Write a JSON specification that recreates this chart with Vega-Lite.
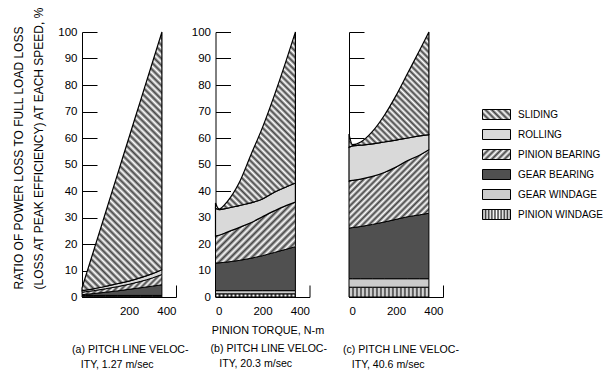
{
  "$schema": "https://vega.github.io/schema/vega-lite/v6.json",
  "background": "white",
  "padding": {"left": 12, "top": 5, "right": 2, "bottom": 2},
  "datasets": {
    "a": [
      {"t": 0, "PINION WINDAGE": 0.3, "GEAR WINDAGE": 0.3, "GEAR BEARING": 0.3, "PINION BEARING": 0.9, "ROLLING": 0.6, "SLIDING": 1.0},
      {"t": 15, "PINION WINDAGE": 0.3, "GEAR WINDAGE": 0.3, "GEAR BEARING": 0.4, "PINION BEARING": 1.0, "ROLLING": 0.6, "SLIDING": 5.1},
      {"t": 50, "PINION WINDAGE": 0.3, "GEAR WINDAGE": 0.3, "GEAR BEARING": 0.7, "PINION BEARING": 1.1, "ROLLING": 0.7, "SLIDING": 14.5},
      {"t": 100, "PINION WINDAGE": 0.3, "GEAR WINDAGE": 0.3, "GEAR BEARING": 1.2, "PINION BEARING": 1.3, "ROLLING": 0.9, "SLIDING": 27.8},
      {"t": 150, "PINION WINDAGE": 0.3, "GEAR WINDAGE": 0.3, "GEAR BEARING": 1.7, "PINION BEARING": 1.6, "ROLLING": 1.1, "SLIDING": 41.0},
      {"t": 200, "PINION WINDAGE": 0.3, "GEAR WINDAGE": 0.3, "GEAR BEARING": 2.3, "PINION BEARING": 1.9, "ROLLING": 1.2, "SLIDING": 54.2},
      {"t": 250, "PINION WINDAGE": 0.3, "GEAR WINDAGE": 0.3, "GEAR BEARING": 2.9, "PINION BEARING": 2.4, "ROLLING": 1.4, "SLIDING": 67.1},
      {"t": 300, "PINION WINDAGE": 0.3, "GEAR WINDAGE": 0.3, "GEAR BEARING": 3.5, "PINION BEARING": 3.1, "ROLLING": 1.6, "SLIDING": 79.8},
      {"t": 340, "PINION WINDAGE": 0.3, "GEAR WINDAGE": 0.3, "GEAR BEARING": 4.0, "PINION BEARING": 3.9, "ROLLING": 1.8, "SLIDING": 89.7}
    ],
    "b": [
      {"t": 0, "PINION WINDAGE": 1.2, "GEAR WINDAGE": 1.2, "GEAR BEARING": 10.4, "PINION BEARING": 10.2, "ROLLING": 10.5, "SLIDING": 2.0},
      {"t": 15, "PINION WINDAGE": 1.2, "GEAR WINDAGE": 1.2, "GEAR BEARING": 10.5, "PINION BEARING": 10.4, "ROLLING": 9.7, "SLIDING": 0.2},
      {"t": 50, "PINION WINDAGE": 1.2, "GEAR WINDAGE": 1.2, "GEAR BEARING": 10.8, "PINION BEARING": 11.3, "ROLLING": 9.0, "SLIDING": 2.5},
      {"t": 100, "PINION WINDAGE": 1.2, "GEAR WINDAGE": 1.2, "GEAR BEARING": 11.4, "PINION BEARING": 12.4, "ROLLING": 8.3, "SLIDING": 8.5},
      {"t": 150, "PINION WINDAGE": 1.2, "GEAR WINDAGE": 1.2, "GEAR BEARING": 12.2, "PINION BEARING": 13.4, "ROLLING": 7.5, "SLIDING": 18.0},
      {"t": 200, "PINION WINDAGE": 1.2, "GEAR WINDAGE": 1.2, "GEAR BEARING": 13.2, "PINION BEARING": 14.7, "ROLLING": 6.7, "SLIDING": 27.0},
      {"t": 250, "PINION WINDAGE": 1.2, "GEAR WINDAGE": 1.2, "GEAR BEARING": 14.4, "PINION BEARING": 15.7, "ROLLING": 7.0, "SLIDING": 36.5},
      {"t": 300, "PINION WINDAGE": 1.2, "GEAR WINDAGE": 1.2, "GEAR BEARING": 15.6, "PINION BEARING": 16.5, "ROLLING": 7.0, "SLIDING": 47.5},
      {"t": 340, "PINION WINDAGE": 1.2, "GEAR WINDAGE": 1.2, "GEAR BEARING": 16.6, "PINION BEARING": 16.8, "ROLLING": 7.2, "SLIDING": 57.0}
    ],
    "c": [
      {"t": 0, "PINION WINDAGE": 3.7, "GEAR WINDAGE": 3.2, "GEAR BEARING": 19.1, "PINION BEARING": 17.8, "ROLLING": 12.7, "SLIDING": 5.0},
      {"t": 15, "PINION WINDAGE": 3.7, "GEAR WINDAGE": 3.2, "GEAR BEARING": 19.3, "PINION BEARING": 17.8, "ROLLING": 13.0, "SLIDING": 0.5},
      {"t": 50, "PINION WINDAGE": 3.7, "GEAR WINDAGE": 3.2, "GEAR BEARING": 19.7, "PINION BEARING": 17.9, "ROLLING": 12.8, "SLIDING": 1.2},
      {"t": 100, "PINION WINDAGE": 3.7, "GEAR WINDAGE": 3.2, "GEAR BEARING": 20.5, "PINION BEARING": 18.1, "ROLLING": 12.3, "SLIDING": 4.7},
      {"t": 150, "PINION WINDAGE": 3.7, "GEAR WINDAGE": 3.2, "GEAR BEARING": 21.4, "PINION BEARING": 18.7, "ROLLING": 11.5, "SLIDING": 10.0},
      {"t": 200, "PINION WINDAGE": 3.7, "GEAR WINDAGE": 3.2, "GEAR BEARING": 22.4, "PINION BEARING": 19.7, "ROLLING": 10.2, "SLIDING": 16.8},
      {"t": 250, "PINION WINDAGE": 3.7, "GEAR WINDAGE": 3.2, "GEAR BEARING": 23.4, "PINION BEARING": 21.2, "ROLLING": 8.5, "SLIDING": 24.5},
      {"t": 300, "PINION WINDAGE": 3.7, "GEAR WINDAGE": 3.2, "GEAR BEARING": 24.1, "PINION BEARING": 22.5, "ROLLING": 7.3, "SLIDING": 32.2},
      {"t": 340, "PINION WINDAGE": 3.7, "GEAR WINDAGE": 3.2, "GEAR BEARING": 24.7, "PINION BEARING": 24.0, "ROLLING": 5.7, "SLIDING": 38.7}
    ],
    "keys": [
      {"key": "SLIDING"}, {"key": "ROLLING"}, {"key": "PINION BEARING"},
      {"key": "GEAR BEARING"}, {"key": "GEAR WINDAGE"}, {"key": "PINION WINDAGE"}
    ]
  },
  "resolve": {"scale": {"x": "independent", "y": "independent"}},
  "spacing": 39.5,
  "bounds": "flush",
  "center": true,
  "hconcat": [
    {
      "width": 94, "height": 265,
      "data": {"name": "a"},
      "transform": [
        {"fold": ["PINION WINDAGE", "GEAR WINDAGE", "GEAR BEARING", "PINION BEARING", "ROLLING", "SLIDING"], "as": ["key", "v"]},
        {"calculate": "indexof(['PINION WINDAGE','GEAR WINDAGE','GEAR BEARING','PINION BEARING','ROLLING','SLIDING'], datum.key)", "as": "ord"},
        {"stack": "v", "groupby": ["t"], "sort": [{"field": "ord", "order": "ascending"}], "as": ["lo", "hi"]}
      ],
      "encoding": {
        "x": {"field": "t", "type": "quantitative", "scale": {"domain": [0, 400], "nice": false},
              "axis": {"values": [0, 200, 400], "tickSize": -12, "labelPadding": 20, "labelExpr": "datum.value == 0 ? '' : datum.label", "title": null}},
        "y": {"field": "lo", "type": "quantitative", "scale": {"domain": [0, 100], "nice": false},
              "axis": {"values": [0, 10, 20, 30, 40, 50, 60, 70, 80, 90, 100], "tickSize": -15, "labelPadding": 20,
                       "title": ["RATIO OF POWER LOSS TO FULL LOAD LOSS", "(LOSS AT PEAK EFFICIENCY) AT EACH SPEED, %"],
                       "titleFontSize": 12, "titleLineHeight": 20, "titleAngle": -90, "titleAlign": "left", "titleBaseline": "bottom",
                       "titleX": -57, "titleY": 257}},
        "y2": {"field": "hi"}
      },
      "layer": [
        {"transform": [{"filter": "datum.key === 'PINION WINDAGE'"}],
         "mark": {"type": "area", "interpolate": "monotone", "stroke": "black", "strokeWidth": 1,
                  "fill": {"gradient": "linear", "x1": 0, "y1": 0, "x2": 1, "y2": 0, "stops": [
{"offset":0,"color":"#333"},{"offset":0.025,"color":"#fff"},{"offset":0.05,"color":"#333"},{"offset":0.075,"color":"#fff"},{"offset":0.1,"color":"#333"},{"offset":0.125,"color":"#fff"},{"offset":0.15,"color":"#333"},{"offset":0.175,"color":"#fff"},{"offset":0.2,"color":"#333"},{"offset":0.225,"color":"#fff"},{"offset":0.25,"color":"#333"},{"offset":0.275,"color":"#fff"},{"offset":0.3,"color":"#333"},{"offset":0.325,"color":"#fff"},{"offset":0.35,"color":"#333"},{"offset":0.375,"color":"#fff"},{"offset":0.4,"color":"#333"},{"offset":0.425,"color":"#fff"},{"offset":0.45,"color":"#333"},{"offset":0.475,"color":"#fff"},{"offset":0.5,"color":"#333"},{"offset":0.525,"color":"#fff"},{"offset":0.55,"color":"#333"},{"offset":0.575,"color":"#fff"},{"offset":0.6,"color":"#333"},{"offset":0.625,"color":"#fff"},{"offset":0.65,"color":"#333"},{"offset":0.675,"color":"#fff"},{"offset":0.7,"color":"#333"},{"offset":0.725,"color":"#fff"},{"offset":0.75,"color":"#333"},{"offset":0.775,"color":"#fff"},{"offset":0.8,"color":"#333"},{"offset":0.825,"color":"#fff"},{"offset":0.85,"color":"#333"},{"offset":0.875,"color":"#fff"},{"offset":0.9,"color":"#333"},{"offset":0.925,"color":"#fff"},{"offset":0.95,"color":"#333"},{"offset":0.975,"color":"#fff"},{"offset":1,"color":"#333"}]}}},
        {"transform": [{"filter": "datum.key === 'GEAR WINDAGE'"}],
         "mark": {"type": "area", "interpolate": "monotone", "stroke": "black", "strokeWidth": 1, "fill": "#cccccc"}},
        {"transform": [{"filter": "datum.key === 'GEAR BEARING'"}],
         "mark": {"type": "area", "interpolate": "monotone", "stroke": "black", "strokeWidth": 1, "fill": "#505050"}},
        {"transform": [{"filter": "datum.key === 'PINION BEARING'"}],
         "mark": {"type": "area", "interpolate": "monotone", "stroke": "black", "strokeWidth": 1,
                  "fill": {"gradient": "linear", "x1": 0, "y1": 0, "x2": 1.177, "y2": 0.296, "stops": [
{"offset":0,"color":"#444"},{"offset":0.03,"color":"#fff"},{"offset":0.06,"color":"#444"},{"offset":0.09,"color":"#fff"},{"offset":0.12,"color":"#444"},{"offset":0.15,"color":"#fff"},{"offset":0.18,"color":"#444"},{"offset":0.21,"color":"#fff"},{"offset":0.24,"color":"#444"},{"offset":0.27,"color":"#fff"},{"offset":0.3,"color":"#444"},{"offset":0.33,"color":"#fff"},{"offset":0.36,"color":"#444"},{"offset":0.39,"color":"#fff"},{"offset":0.42,"color":"#444"},{"offset":0.45,"color":"#fff"},{"offset":0.48,"color":"#444"},{"offset":0.51,"color":"#fff"},{"offset":0.54,"color":"#444"},{"offset":0.57,"color":"#fff"},{"offset":0.6,"color":"#444"},{"offset":0.63,"color":"#fff"},{"offset":0.66,"color":"#444"},{"offset":0.69,"color":"#fff"},{"offset":0.72,"color":"#444"},{"offset":0.75,"color":"#fff"},{"offset":0.78,"color":"#444"},{"offset":0.81,"color":"#fff"},{"offset":0.84,"color":"#444"},{"offset":0.87,"color":"#fff"},{"offset":0.9,"color":"#444"},{"offset":0.93,"color":"#fff"},{"offset":0.96,"color":"#444"},{"offset":0.99,"color":"#fff"}]}}},
        {"transform": [{"filter": "datum.key === 'ROLLING'"}],
         "mark": {"type": "area", "interpolate": "monotone", "stroke": "black", "strokeWidth": 1, "fill": "#d9d9d9"}},
        {"transform": [{"filter": "datum.key === 'SLIDING'"}],
         "mark": {"type": "area", "interpolate": "monotone", "stroke": "black", "strokeWidth": 1.2,
                  "fill": {"gradient": "linear", "x1": 0, "y1": 1, "x2": 0.369, "y2": -0.195, "stops": [
{"offset":0,"color":"#444"},{"offset":0.01,"color":"#fff"},{"offset":0.02,"color":"#444"},{"offset":0.03,"color":"#fff"},{"offset":0.04,"color":"#444"},{"offset":0.05,"color":"#fff"},{"offset":0.06,"color":"#444"},{"offset":0.07,"color":"#fff"},{"offset":0.08,"color":"#444"},{"offset":0.09,"color":"#fff"},
{"offset":0.1,"color":"#444"},{"offset":0.11,"color":"#fff"},{"offset":0.12,"color":"#444"},{"offset":0.13,"color":"#fff"},{"offset":0.14,"color":"#444"},{"offset":0.15,"color":"#fff"},{"offset":0.16,"color":"#444"},{"offset":0.17,"color":"#fff"},{"offset":0.18,"color":"#444"},{"offset":0.19,"color":"#fff"},
{"offset":0.2,"color":"#444"},{"offset":0.21,"color":"#fff"},{"offset":0.22,"color":"#444"},{"offset":0.23,"color":"#fff"},{"offset":0.24,"color":"#444"},{"offset":0.25,"color":"#fff"},{"offset":0.26,"color":"#444"},{"offset":0.27,"color":"#fff"},{"offset":0.28,"color":"#444"},{"offset":0.29,"color":"#fff"},
{"offset":0.3,"color":"#444"},{"offset":0.31,"color":"#fff"},{"offset":0.32,"color":"#444"},{"offset":0.33,"color":"#fff"},{"offset":0.34,"color":"#444"},{"offset":0.35,"color":"#fff"},{"offset":0.36,"color":"#444"},{"offset":0.37,"color":"#fff"},{"offset":0.38,"color":"#444"},{"offset":0.39,"color":"#fff"},
{"offset":0.4,"color":"#444"},{"offset":0.41,"color":"#fff"},{"offset":0.42,"color":"#444"},{"offset":0.43,"color":"#fff"},{"offset":0.44,"color":"#444"},{"offset":0.45,"color":"#fff"},{"offset":0.46,"color":"#444"},{"offset":0.47,"color":"#fff"},{"offset":0.48,"color":"#444"},{"offset":0.49,"color":"#fff"},
{"offset":0.5,"color":"#444"},{"offset":0.51,"color":"#fff"},{"offset":0.52,"color":"#444"},{"offset":0.53,"color":"#fff"},{"offset":0.54,"color":"#444"},{"offset":0.55,"color":"#fff"},{"offset":0.56,"color":"#444"},{"offset":0.57,"color":"#fff"},{"offset":0.58,"color":"#444"},{"offset":0.59,"color":"#fff"},
{"offset":0.6,"color":"#444"},{"offset":0.61,"color":"#fff"},{"offset":0.62,"color":"#444"},{"offset":0.63,"color":"#fff"},{"offset":0.64,"color":"#444"},{"offset":0.65,"color":"#fff"},{"offset":0.66,"color":"#444"},{"offset":0.67,"color":"#fff"},{"offset":0.68,"color":"#444"},{"offset":0.69,"color":"#fff"},
{"offset":0.7,"color":"#444"},{"offset":0.71,"color":"#fff"},{"offset":0.72,"color":"#444"},{"offset":0.73,"color":"#fff"},{"offset":0.74,"color":"#444"},{"offset":0.75,"color":"#fff"},{"offset":0.76,"color":"#444"},{"offset":0.77,"color":"#fff"},{"offset":0.78,"color":"#444"},{"offset":0.79,"color":"#fff"},
{"offset":0.8,"color":"#444"},{"offset":0.81,"color":"#fff"},{"offset":0.82,"color":"#444"},{"offset":0.83,"color":"#fff"},{"offset":0.84,"color":"#444"},{"offset":0.85,"color":"#fff"},{"offset":0.86,"color":"#444"},{"offset":0.87,"color":"#fff"},{"offset":0.88,"color":"#444"},{"offset":0.89,"color":"#fff"},
{"offset":0.9,"color":"#444"},{"offset":0.91,"color":"#fff"},{"offset":0.92,"color":"#444"},{"offset":0.93,"color":"#fff"},{"offset":0.94,"color":"#444"},{"offset":0.95,"color":"#fff"},{"offset":0.96,"color":"#444"},{"offset":0.97,"color":"#fff"},{"offset":0.98,"color":"#444"},{"offset":0.99,"color":"#fff"},{"offset":1,"color":"#444"}]}}}
      ],
      "title": {"text": ["(a) PITCH LINE VELOC-", "\u200b\u00a0\u00a0\u00a0ITY, 1.27 m/sec"], "orient": "bottom", "anchor": "start", "align": "left", "frame": "group",
                "fontSize": 10.6, "fontWeight": "normal", "lineHeight": 15, "dx": -10, "offset": 28}
    },
    {
      "width": 94, "height": 265,
      "data": {"name": "b"},
      "transform": [
        {"fold": ["PINION WINDAGE", "GEAR WINDAGE", "GEAR BEARING", "PINION BEARING", "ROLLING", "SLIDING"], "as": ["key", "v"]},
        {"calculate": "indexof(['PINION WINDAGE','GEAR WINDAGE','GEAR BEARING','PINION BEARING','ROLLING','SLIDING'], datum.key)", "as": "ord"},
        {"stack": "v", "groupby": ["t"], "sort": [{"field": "ord", "order": "ascending"}], "as": ["lo", "hi"]}
      ],
      "encoding": {
        "x": {"field": "t", "type": "quantitative", "scale": {"domain": [0, 400], "nice": false},
              "axis": {"values": [0, 200, 400], "tickSize": -12, "labelPadding": 20, "title": "PINION TORQUE, N-m",
                       "titleFontSize": 10.8, "titlePadding": 8, "titleX": 52}},
        "y": {"field": "lo", "type": "quantitative", "scale": {"domain": [0, 100], "nice": false},
              "axis": {"values": [0, 10, 20, 30, 40, 50, 60, 70, 80, 90, 100], "tickSize": -15, "labelPadding": 20, "title": null}},
        "y2": {"field": "hi"}
      },
      "layer": [
        {"transform": [{"filter": "datum.key === 'PINION WINDAGE'"}],
         "mark": {"type": "area", "interpolate": "monotone", "stroke": "black", "strokeWidth": 1,
                  "fill": {"gradient": "linear", "x1": 0, "y1": 0, "x2": 1, "y2": 0, "stops": [
{"offset":0,"color":"#333"},{"offset":0.025,"color":"#fff"},{"offset":0.05,"color":"#333"},{"offset":0.075,"color":"#fff"},{"offset":0.1,"color":"#333"},{"offset":0.125,"color":"#fff"},{"offset":0.15,"color":"#333"},{"offset":0.175,"color":"#fff"},{"offset":0.2,"color":"#333"},{"offset":0.225,"color":"#fff"},{"offset":0.25,"color":"#333"},{"offset":0.275,"color":"#fff"},{"offset":0.3,"color":"#333"},{"offset":0.325,"color":"#fff"},{"offset":0.35,"color":"#333"},{"offset":0.375,"color":"#fff"},{"offset":0.4,"color":"#333"},{"offset":0.425,"color":"#fff"},{"offset":0.45,"color":"#333"},{"offset":0.475,"color":"#fff"},{"offset":0.5,"color":"#333"},{"offset":0.525,"color":"#fff"},{"offset":0.55,"color":"#333"},{"offset":0.575,"color":"#fff"},{"offset":0.6,"color":"#333"},{"offset":0.625,"color":"#fff"},{"offset":0.65,"color":"#333"},{"offset":0.675,"color":"#fff"},{"offset":0.7,"color":"#333"},{"offset":0.725,"color":"#fff"},{"offset":0.75,"color":"#333"},{"offset":0.775,"color":"#fff"},{"offset":0.8,"color":"#333"},{"offset":0.825,"color":"#fff"},{"offset":0.85,"color":"#333"},{"offset":0.875,"color":"#fff"},{"offset":0.9,"color":"#333"},{"offset":0.925,"color":"#fff"},{"offset":0.95,"color":"#333"},{"offset":0.975,"color":"#fff"},{"offset":1,"color":"#333"}]}}},
        {"transform": [{"filter": "datum.key === 'GEAR WINDAGE'"}],
         "mark": {"type": "area", "interpolate": "monotone", "stroke": "black", "strokeWidth": 1, "fill": "#cccccc"}},
        {"transform": [{"filter": "datum.key === 'GEAR BEARING'"}],
         "mark": {"type": "area", "interpolate": "monotone", "stroke": "black", "strokeWidth": 1, "fill": "#505050"}},
        {"transform": [{"filter": "datum.key === 'PINION BEARING'"}],
         "mark": {"type": "area", "interpolate": "monotone", "stroke": "black", "strokeWidth": 1,
                  "fill": {"gradient": "linear", "x1": 0, "y1": 0, "x2": 1.115, "y2": 0.85, "stops": [
{"offset":0,"color":"#444"},{"offset":0.025,"color":"#fff"},{"offset":0.05,"color":"#444"},{"offset":0.075,"color":"#fff"},{"offset":0.1,"color":"#444"},{"offset":0.125,"color":"#fff"},{"offset":0.15,"color":"#444"},{"offset":0.175,"color":"#fff"},{"offset":0.2,"color":"#444"},{"offset":0.225,"color":"#fff"},{"offset":0.25,"color":"#444"},{"offset":0.275,"color":"#fff"},{"offset":0.3,"color":"#444"},{"offset":0.325,"color":"#fff"},{"offset":0.35,"color":"#444"},{"offset":0.375,"color":"#fff"},{"offset":0.4,"color":"#444"},{"offset":0.425,"color":"#fff"},{"offset":0.45,"color":"#444"},{"offset":0.475,"color":"#fff"},{"offset":0.5,"color":"#444"},{"offset":0.525,"color":"#fff"},{"offset":0.55,"color":"#444"},{"offset":0.575,"color":"#fff"},{"offset":0.6,"color":"#444"},{"offset":0.625,"color":"#fff"},{"offset":0.65,"color":"#444"},{"offset":0.675,"color":"#fff"},{"offset":0.7,"color":"#444"},{"offset":0.725,"color":"#fff"},{"offset":0.75,"color":"#444"},{"offset":0.775,"color":"#fff"},{"offset":0.8,"color":"#444"},{"offset":0.825,"color":"#fff"},{"offset":0.85,"color":"#444"},{"offset":0.875,"color":"#fff"},{"offset":0.9,"color":"#444"},{"offset":0.925,"color":"#fff"},{"offset":0.95,"color":"#444"},{"offset":0.975,"color":"#fff"},{"offset":1,"color":"#444"}]}}},
        {"transform": [{"filter": "datum.key === 'ROLLING'"}],
         "mark": {"type": "area", "interpolate": "monotone", "stroke": "black", "strokeWidth": 1.2, "fill": "#d9d9d9"}},
        {"transform": [{"filter": "datum.key === 'SLIDING'"}],
         "mark": {"type": "area", "interpolate": "monotone", "stroke": "black", "strokeWidth": 1.2,
                  "fill": {"gradient": "linear", "x1": 0, "y1": 1, "x2": 0.543, "y2": -0.206, "stops": [
{"offset":0,"color":"#444"},{"offset":0.0125,"color":"#fff"},{"offset":0.025,"color":"#444"},{"offset":0.0375,"color":"#fff"},{"offset":0.05,"color":"#444"},{"offset":0.0625,"color":"#fff"},{"offset":0.075,"color":"#444"},{"offset":0.0875,"color":"#fff"},
{"offset":0.1,"color":"#444"},{"offset":0.1125,"color":"#fff"},{"offset":0.125,"color":"#444"},{"offset":0.1375,"color":"#fff"},{"offset":0.15,"color":"#444"},{"offset":0.1625,"color":"#fff"},{"offset":0.175,"color":"#444"},{"offset":0.1875,"color":"#fff"},
{"offset":0.2,"color":"#444"},{"offset":0.2125,"color":"#fff"},{"offset":0.225,"color":"#444"},{"offset":0.2375,"color":"#fff"},{"offset":0.25,"color":"#444"},{"offset":0.2625,"color":"#fff"},{"offset":0.275,"color":"#444"},{"offset":0.2875,"color":"#fff"},
{"offset":0.3,"color":"#444"},{"offset":0.3125,"color":"#fff"},{"offset":0.325,"color":"#444"},{"offset":0.3375,"color":"#fff"},{"offset":0.35,"color":"#444"},{"offset":0.3625,"color":"#fff"},{"offset":0.375,"color":"#444"},{"offset":0.3875,"color":"#fff"},
{"offset":0.4,"color":"#444"},{"offset":0.4125,"color":"#fff"},{"offset":0.425,"color":"#444"},{"offset":0.4375,"color":"#fff"},{"offset":0.45,"color":"#444"},{"offset":0.4625,"color":"#fff"},{"offset":0.475,"color":"#444"},{"offset":0.4875,"color":"#fff"},
{"offset":0.5,"color":"#444"},{"offset":0.5125,"color":"#fff"},{"offset":0.525,"color":"#444"},{"offset":0.5375,"color":"#fff"},{"offset":0.55,"color":"#444"},{"offset":0.5625,"color":"#fff"},{"offset":0.575,"color":"#444"},{"offset":0.5875,"color":"#fff"},
{"offset":0.6,"color":"#444"},{"offset":0.6125,"color":"#fff"},{"offset":0.625,"color":"#444"},{"offset":0.6375,"color":"#fff"},{"offset":0.65,"color":"#444"},{"offset":0.6625,"color":"#fff"},{"offset":0.675,"color":"#444"},{"offset":0.6875,"color":"#fff"},
{"offset":0.7,"color":"#444"},{"offset":0.7125,"color":"#fff"},{"offset":0.725,"color":"#444"},{"offset":0.7375,"color":"#fff"},{"offset":0.75,"color":"#444"},{"offset":0.7625,"color":"#fff"},{"offset":0.775,"color":"#444"},{"offset":0.7875,"color":"#fff"},
{"offset":0.8,"color":"#444"},{"offset":0.8125,"color":"#fff"},{"offset":0.825,"color":"#444"},{"offset":0.8375,"color":"#fff"},{"offset":0.85,"color":"#444"},{"offset":0.8625,"color":"#fff"},{"offset":0.875,"color":"#444"},{"offset":0.8875,"color":"#fff"},
{"offset":0.9,"color":"#444"},{"offset":0.9125,"color":"#fff"},{"offset":0.925,"color":"#444"},{"offset":0.9375,"color":"#fff"},{"offset":0.95,"color":"#444"},{"offset":0.9625,"color":"#fff"},{"offset":0.975,"color":"#444"},{"offset":0.9875,"color":"#fff"},{"offset":1,"color":"#444"}]}}}
      ],
      "title": {"text": ["(b) PITCH LINE VELOC-", "\u200b\u00a0\u00a0\u00a0ITY, 20.3 m/sec"], "orient": "bottom", "anchor": "start", "align": "left", "frame": "group",
                "fontSize": 10.6, "fontWeight": "normal", "lineHeight": 15, "dx": -5, "offset": 9}
    },
    {
      "width": 94, "height": 265,
      "data": {"name": "c"},
      "transform": [
        {"fold": ["PINION WINDAGE", "GEAR WINDAGE", "GEAR BEARING", "PINION BEARING", "ROLLING", "SLIDING"], "as": ["key", "v"]},
        {"calculate": "indexof(['PINION WINDAGE','GEAR WINDAGE','GEAR BEARING','PINION BEARING','ROLLING','SLIDING'], datum.key)", "as": "ord"},
        {"stack": "v", "groupby": ["t"], "sort": [{"field": "ord", "order": "ascending"}], "as": ["lo", "hi"]}
      ],
      "encoding": {
        "x": {"field": "t", "type": "quantitative", "scale": {"domain": [0, 400], "nice": false},
              "axis": {"values": [0, 200, 400], "tickSize": -12, "labelPadding": 20, "title": null}},
        "y": {"field": "lo", "type": "quantitative", "scale": {"domain": [0, 100], "nice": false},
              "axis": {"values": [0, 10, 20, 30, 40, 50, 60, 70, 80, 90, 100], "tickSize": -15, "labels": false, "title": null}},
        "y2": {"field": "hi"}
      },
      "layer": [
        {"transform": [{"filter": "datum.key === 'PINION WINDAGE'"}],
         "mark": {"type": "area", "interpolate": "monotone", "stroke": "black", "strokeWidth": 1,
                  "fill": {"gradient": "linear", "x1": 0, "y1": 0, "x2": 1, "y2": 0, "stops": [
{"offset":0,"color":"#333"},{"offset":0.025,"color":"#fff"},{"offset":0.05,"color":"#333"},{"offset":0.075,"color":"#fff"},{"offset":0.1,"color":"#333"},{"offset":0.125,"color":"#fff"},{"offset":0.15,"color":"#333"},{"offset":0.175,"color":"#fff"},{"offset":0.2,"color":"#333"},{"offset":0.225,"color":"#fff"},{"offset":0.25,"color":"#333"},{"offset":0.275,"color":"#fff"},{"offset":0.3,"color":"#333"},{"offset":0.325,"color":"#fff"},{"offset":0.35,"color":"#333"},{"offset":0.375,"color":"#fff"},{"offset":0.4,"color":"#333"},{"offset":0.425,"color":"#fff"},{"offset":0.45,"color":"#333"},{"offset":0.475,"color":"#fff"},{"offset":0.5,"color":"#333"},{"offset":0.525,"color":"#fff"},{"offset":0.55,"color":"#333"},{"offset":0.575,"color":"#fff"},{"offset":0.6,"color":"#333"},{"offset":0.625,"color":"#fff"},{"offset":0.65,"color":"#333"},{"offset":0.675,"color":"#fff"},{"offset":0.7,"color":"#333"},{"offset":0.725,"color":"#fff"},{"offset":0.75,"color":"#333"},{"offset":0.775,"color":"#fff"},{"offset":0.8,"color":"#333"},{"offset":0.825,"color":"#fff"},{"offset":0.85,"color":"#333"},{"offset":0.875,"color":"#fff"},{"offset":0.9,"color":"#333"},{"offset":0.925,"color":"#fff"},{"offset":0.95,"color":"#333"},{"offset":0.975,"color":"#fff"},{"offset":1,"color":"#333"}]}}},
        {"transform": [{"filter": "datum.key === 'GEAR WINDAGE'"}],
         "mark": {"type": "area", "interpolate": "monotone", "stroke": "black", "strokeWidth": 1, "fill": "#cccccc"}},
        {"transform": [{"filter": "datum.key === 'GEAR BEARING'"}],
         "mark": {"type": "area", "interpolate": "monotone", "stroke": "black", "strokeWidth": 1, "fill": "#505050"}},
        {"transform": [{"filter": "datum.key === 'PINION BEARING'"}],
         "mark": {"type": "area", "interpolate": "monotone", "stroke": "black", "strokeWidth": 1,
                  "fill": {"gradient": "linear", "x1": 0, "y1": 0, "x2": 1.01, "y2": 0.99, "stops": [
{"offset":0,"color":"#444"},{"offset":0.02,"color":"#fff"},{"offset":0.04,"color":"#444"},{"offset":0.06,"color":"#fff"},{"offset":0.08,"color":"#444"},{"offset":0.1,"color":"#fff"},{"offset":0.12,"color":"#444"},{"offset":0.14,"color":"#fff"},{"offset":0.16,"color":"#444"},{"offset":0.18,"color":"#fff"},
{"offset":0.2,"color":"#444"},{"offset":0.22,"color":"#fff"},{"offset":0.24,"color":"#444"},{"offset":0.26,"color":"#fff"},{"offset":0.28,"color":"#444"},{"offset":0.3,"color":"#fff"},{"offset":0.32,"color":"#444"},{"offset":0.34,"color":"#fff"},{"offset":0.36,"color":"#444"},{"offset":0.38,"color":"#fff"},
{"offset":0.4,"color":"#444"},{"offset":0.42,"color":"#fff"},{"offset":0.44,"color":"#444"},{"offset":0.46,"color":"#fff"},{"offset":0.48,"color":"#444"},{"offset":0.5,"color":"#fff"},{"offset":0.52,"color":"#444"},{"offset":0.54,"color":"#fff"},{"offset":0.56,"color":"#444"},{"offset":0.58,"color":"#fff"},
{"offset":0.6,"color":"#444"},{"offset":0.62,"color":"#fff"},{"offset":0.64,"color":"#444"},{"offset":0.66,"color":"#fff"},{"offset":0.68,"color":"#444"},{"offset":0.7,"color":"#fff"},{"offset":0.72,"color":"#444"},{"offset":0.74,"color":"#fff"},{"offset":0.76,"color":"#444"},{"offset":0.78,"color":"#fff"},
{"offset":0.8,"color":"#444"},{"offset":0.82,"color":"#fff"},{"offset":0.84,"color":"#444"},{"offset":0.86,"color":"#fff"},{"offset":0.88,"color":"#444"},{"offset":0.9,"color":"#fff"},{"offset":0.92,"color":"#444"},{"offset":0.94,"color":"#fff"},{"offset":0.96,"color":"#444"},{"offset":0.98,"color":"#fff"},{"offset":1,"color":"#444"}]}}},
        {"transform": [{"filter": "datum.key === 'ROLLING'"}],
         "mark": {"type": "area", "interpolate": "monotone", "stroke": "black", "strokeWidth": 1.2, "fill": "#d9d9d9"}},
        {"transform": [{"filter": "datum.key === 'SLIDING'"}],
         "mark": {"type": "area", "interpolate": "monotone", "stroke": "black", "strokeWidth": 1.2,
                  "fill": {"gradient": "linear", "x1": 0, "y1": 1, "x2": 0.793, "y2": -0.143, "stops": [
{"offset":0,"color":"#444"},{"offset":0.016,"color":"#fff"},{"offset":0.032,"color":"#444"},{"offset":0.048,"color":"#fff"},{"offset":0.064,"color":"#444"},{"offset":0.08,"color":"#fff"},{"offset":0.096,"color":"#444"},{"offset":0.112,"color":"#fff"},{"offset":0.128,"color":"#444"},{"offset":0.144,"color":"#fff"},
{"offset":0.16,"color":"#444"},{"offset":0.176,"color":"#fff"},{"offset":0.192,"color":"#444"},{"offset":0.208,"color":"#fff"},{"offset":0.224,"color":"#444"},{"offset":0.24,"color":"#fff"},{"offset":0.256,"color":"#444"},{"offset":0.272,"color":"#fff"},{"offset":0.288,"color":"#444"},{"offset":0.304,"color":"#fff"},
{"offset":0.32,"color":"#444"},{"offset":0.336,"color":"#fff"},{"offset":0.352,"color":"#444"},{"offset":0.368,"color":"#fff"},{"offset":0.384,"color":"#444"},{"offset":0.4,"color":"#fff"},{"offset":0.416,"color":"#444"},{"offset":0.432,"color":"#fff"},{"offset":0.448,"color":"#444"},{"offset":0.464,"color":"#fff"},
{"offset":0.48,"color":"#444"},{"offset":0.496,"color":"#fff"},{"offset":0.512,"color":"#444"},{"offset":0.528,"color":"#fff"},{"offset":0.544,"color":"#444"},{"offset":0.56,"color":"#fff"},{"offset":0.576,"color":"#444"},{"offset":0.592,"color":"#fff"},{"offset":0.608,"color":"#444"},{"offset":0.624,"color":"#fff"},
{"offset":0.64,"color":"#444"},{"offset":0.656,"color":"#fff"},{"offset":0.672,"color":"#444"},{"offset":0.688,"color":"#fff"},{"offset":0.704,"color":"#444"},{"offset":0.72,"color":"#fff"},{"offset":0.736,"color":"#444"},{"offset":0.752,"color":"#fff"},{"offset":0.768,"color":"#444"},{"offset":0.784,"color":"#fff"},
{"offset":0.8,"color":"#444"},{"offset":0.816,"color":"#fff"},{"offset":0.832,"color":"#444"},{"offset":0.848,"color":"#fff"},{"offset":0.864,"color":"#444"},{"offset":0.88,"color":"#fff"},{"offset":0.896,"color":"#444"},{"offset":0.912,"color":"#fff"},{"offset":0.928,"color":"#444"},{"offset":0.944,"color":"#fff"},
{"offset":0.96,"color":"#444"},{"offset":0.976,"color":"#fff"},{"offset":0.992,"color":"#444"}]}}}
      ],
      "title": {"text": ["(c) PITCH LINE VELOC-", "\u200b\u00a0\u00a0\u00a0ITY, 40.6 m/sec"], "orient": "bottom", "anchor": "start", "align": "left", "frame": "group",
                "fontSize": 10.6, "fontWeight": "normal", "lineHeight": 15, "dx": -6, "offset": 28}
    },
    {
      "width": 28, "height": 150,
      "data": {"name": "keys"},
      "encoding": {
        "y": {"field": "key", "type": "nominal",
              "scale": {"domain": ["SLIDING", "ROLLING", "PINION BEARING", "GEAR BEARING", "GEAR WINDAGE", "PINION WINDAGE"],
                        "paddingInner": 0.5, "paddingOuter": 1},
              "axis": {"orient": "right", "domain": false, "ticks": false, "labelPadding": 7, "labelFontSize": 10, "title": null, "zindex": 0}}
      },
      "layer": [
        {"transform": [{"filter": "datum.key === 'SLIDING'"}],
         "mark": {"type": "rect", "stroke": "black", "strokeWidth": 1,
                  "fill": {"gradient": "linear", "x1": 0, "y1": 1, "x2": 1.204, "y2": 0.57, "stops": [
{"offset":0,"color":"#444"},{"offset":0.0833,"color":"#fff"},{"offset":0.1667,"color":"#444"},{"offset":0.25,"color":"#fff"},{"offset":0.3333,"color":"#444"},{"offset":0.4167,"color":"#fff"},{"offset":0.5,"color":"#444"},{"offset":0.5833,"color":"#fff"},{"offset":0.6667,"color":"#444"},{"offset":0.75,"color":"#fff"},{"offset":0.8333,"color":"#444"},{"offset":0.9167,"color":"#fff"},{"offset":1,"color":"#444"}]}}},
        {"transform": [{"filter": "datum.key === 'ROLLING'"}],
         "mark": {"type": "rect", "stroke": "black", "strokeWidth": 1, "fill": "#d9d9d9"}},
        {"transform": [{"filter": "datum.key === 'PINION BEARING'"}],
         "mark": {"type": "rect", "stroke": "black", "strokeWidth": 1,
                  "fill": {"gradient": "linear", "x1": 0, "y1": 0, "x2": 1.204, "y2": 0.43, "stops": [
{"offset":0,"color":"#444"},{"offset":0.0833,"color":"#fff"},{"offset":0.1667,"color":"#444"},{"offset":0.25,"color":"#fff"},{"offset":0.3333,"color":"#444"},{"offset":0.4167,"color":"#fff"},{"offset":0.5,"color":"#444"},{"offset":0.5833,"color":"#fff"},{"offset":0.6667,"color":"#444"},{"offset":0.75,"color":"#fff"},{"offset":0.8333,"color":"#444"},{"offset":0.9167,"color":"#fff"},{"offset":1,"color":"#444"}]}}},
        {"transform": [{"filter": "datum.key === 'GEAR BEARING'"}],
         "mark": {"type": "rect", "stroke": "black", "strokeWidth": 1, "fill": "#505050"}},
        {"transform": [{"filter": "datum.key === 'GEAR WINDAGE'"}],
         "mark": {"type": "rect", "stroke": "black", "strokeWidth": 1, "fill": "#cccccc"}},
        {"transform": [{"filter": "datum.key === 'PINION WINDAGE'"}],
         "mark": {"type": "rect", "stroke": "black", "strokeWidth": 1,
                  "fill": {"gradient": "linear", "x1": 0, "y1": 0, "x2": 1, "y2": 0, "stops": [
{"offset":0,"color":"#333"},{"offset":0.0556,"color":"#fff"},{"offset":0.1111,"color":"#333"},{"offset":0.1667,"color":"#fff"},{"offset":0.2222,"color":"#333"},{"offset":0.2778,"color":"#fff"},{"offset":0.3333,"color":"#333"},{"offset":0.3889,"color":"#fff"},{"offset":0.4444,"color":"#333"},{"offset":0.5,"color":"#fff"},{"offset":0.5556,"color":"#333"},{"offset":0.6111,"color":"#fff"},{"offset":0.6667,"color":"#333"},{"offset":0.7222,"color":"#fff"},{"offset":0.7778,"color":"#333"},{"offset":0.8333,"color":"#fff"},{"offset":0.8889,"color":"#333"},{"offset":0.9444,"color":"#fff"},{"offset":1,"color":"#333"}]}}}
      ]
    }
  ],
  "config": {
    "font": "Liberation Sans, Arial, sans-serif",
    "view": {"stroke": null},
    "axis": {"grid": false, "zindex": 1, "domainColor": "black", "tickColor": "black", "labelColor": "black", "titleColor": "black",
             "labelFontSize": 11.5, "titleFontWeight": "normal", "domainWidth": 1, "tickWidth": 1},
    "title": {"color": "black"}
  }
}
